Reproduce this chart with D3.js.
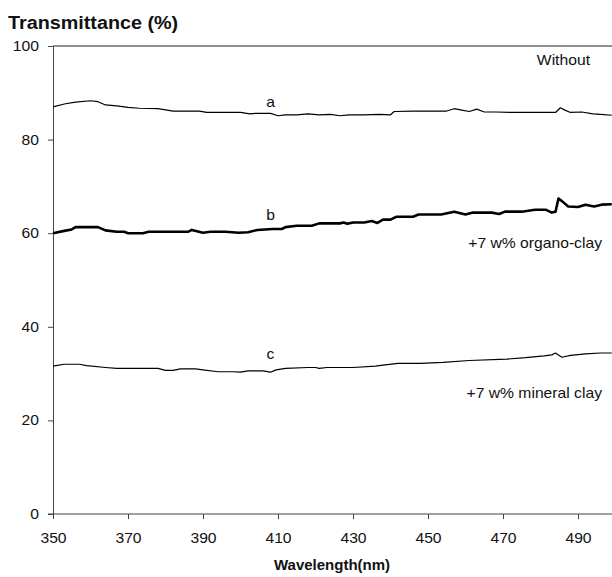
<!DOCTYPE html>
<html>
<head>
<meta charset="utf-8">
<script src="https://cdn.jsdelivr.net/npm/d3@7"></script>
<style>
  body { margin: 0; background: #fff; }
  svg { display: block; font-family: "Liberation Sans", Arial, sans-serif; }
  .axis path, .axis line { stroke: #444; }
  .axis text { font-size: 14px; fill: #111; }
</style>
</head>
<body>
<svg id="chart" width="612" height="577"></svg>
<script>
// spectra (wavelength nm, transmittance %)
const wlA = [350, 353, 356, 360, 362, 364, 367, 370, 373, 378, 382, 386, 389, 391, 395, 400, 402.5, 404, 408, 410, 412, 415, 418, 421, 424, 426.5, 429, 433, 437, 440, 441, 446, 450, 455, 457, 459, 461, 463, 465, 468, 472, 476, 480, 484, 485.3, 486.5, 488, 491, 494, 496, 499];
const tA = [87.0, 87.6, 88.0, 88.3, 88.1, 87.4, 87.2, 86.9, 86.7, 86.6, 86.1, 86.1, 86.1, 85.8, 85.8, 85.8, 85.5, 85.6, 85.6, 85.1, 85.3, 85.3, 85.5, 85.3, 85.4, 85.1, 85.3, 85.3, 85.4, 85.3, 86.0, 86.1, 86.1, 86.1, 86.6, 86.3, 86.0, 86.5, 85.9, 85.9, 85.8, 85.8, 85.8, 85.8, 86.8, 86.3, 85.8, 85.9, 85.5, 85.4, 85.2];

const wlB = [350, 353, 355, 356, 362, 364, 367, 369, 370, 374, 375.5, 380, 386, 387, 390, 392, 396, 399.5, 402, 404.5, 408.5, 411, 412, 415, 419, 421, 426.5, 427.5, 428.5, 430, 433, 435, 436.5, 438, 440, 441.5, 446, 447.5, 453.5, 457, 460, 462, 467, 469, 470.5, 475, 478.5, 481.5, 483, 484, 484.8, 485.8, 487.4, 490, 492, 494.3, 496.3, 499];
const tB = [60.0, 60.5, 60.8, 61.3, 61.3, 60.6, 60.3, 60.3, 60.0, 60.0, 60.3, 60.3, 60.3, 60.7, 60.1, 60.3, 60.3, 60.1, 60.2, 60.7, 60.9, 60.9, 61.3, 61.6, 61.6, 62.1, 62.1, 62.3, 62.0, 62.3, 62.3, 62.6, 62.2, 62.9, 62.9, 63.5, 63.5, 64.0, 64.0, 64.6, 64.0, 64.4, 64.4, 64.1, 64.6, 64.6, 65.0, 65.0, 64.4, 64.6, 67.4, 66.8, 65.7, 65.6, 66.1, 65.7, 66.1, 66.2];

const wlC = [350, 353, 357, 359, 364, 367, 378, 380, 382, 384, 388, 390, 394, 398, 400, 402, 406, 408, 409.5, 412, 418, 420, 421, 423, 430, 436, 438, 442, 448, 454, 461, 471, 476, 481, 483, 484, 485.7, 488, 492, 496, 499];
const tC = [31.6, 32.0, 32.0, 31.7, 31.3, 31.1, 31.1, 30.7, 30.7, 31.0, 31.0, 30.8, 30.4, 30.4, 30.3, 30.6, 30.6, 30.3, 30.8, 31.1, 31.3, 31.3, 31.1, 31.3, 31.3, 31.6, 31.8, 32.2, 32.2, 32.4, 32.8, 33.1, 33.4, 33.8, 34.0, 34.4, 33.5, 33.9, 34.2, 34.4, 34.4];

const xTicks = [350, 370, 390, 410, 430, 450, 470, 490];
const yTicks = [0, 20, 40, 60, 80, 100];

const svg = d3.select('#chart');
const plotLeft = 53, plotTop = 46, plotBottom = 514;
const stretch = 1.12; // the original lettering is a bit wide

const x = d3.scaleLinear().domain([350, 500]).range([plotLeft, plotLeft + 150 * 3.75]);
const y = d3.scaleLinear().domain([0, 100]).range([plotBottom, plotTop]);

// frame top line
svg.append('line')
  .attr('x1', x(350)).attr('x2', 612)
  .attr('y1', y(100)).attr('y2', y(100))
  .attr('stroke', '#222').attr('stroke-width', 1.2);

svg.append('g')
  .attr('class', 'axis')
  .attr('transform', `translate(0,${plotBottom})`)
  .call(d3.axisBottom(x).tickValues(xTicks).tickSize(5).tickSizeOuter(0).tickPadding(14))
  .call(g => g.select('.domain').attr('d', `M${plotLeft - 5},0H612`))
  .call(g => g.selectAll('text').attr('transform', `scale(${stretch},1)`));

svg.append('g')
  .attr('class', 'axis')
  .attr('transform', `translate(${plotLeft},0)`)
  .call(d3.axisLeft(y).tickValues(yTicks).tickSize(5).tickSizeOuter(0).tickPadding(9))
  .call(g => g.selectAll('text')
    .attr('x', -14 / stretch)
    .attr('transform', `scale(${stretch},1)`));

svg.selectAll('.axis text').attr('font-family', '"Liberation Sans", Arial, sans-serif');

let line = d3.line().x(d => x(d[0])).y(d => y(d[1]));

let series = [
  {wl: wlA, t: tA, w: 1.2},
  {wl: wlB, t: tB, w: 2.6},
  {wl: wlC, t: tC, w: 1.2}
];
series.forEach(s => {
  svg.append('path')
    .datum(s.wl.map((w, i) => [w, s.t[i]]))
    .attr('fill', 'none')
    .attr('stroke', '#000')
    .attr('stroke-width', s.w)
    .attr('stroke-linejoin', 'round')
    .attr('d', line);
});

// labels
function label(tx, ty, str, anchor, size, weight, sx) {
  svg.append('text')
    .attr('transform', `translate(${tx},${ty}) scale(${sx || stretch},1)`)
    .attr('text-anchor', anchor || 'start')
    .attr('font-size', size || 14)
    .attr('font-weight', weight || 'normal')
    .attr('fill', '#111')
    .text(str);
}
label(8, 29, 'Transmittance (%)', 'start', 17.5, 'bold', 1.13);
label(332, 570, 'Wavelength(nm)', 'middle', 15, 'bold', 1.0);
label(590, 65, 'Without', 'end');
label(x(408), 107, 'a', 'middle');
label(x(408), 220, 'b', 'middle');
label(x(408), 359, 'c', 'middle');
label(602, 248, '+7 w% organo-clay', 'end');
label(602, 398, '+7 w% mineral clay', 'end');
</script>
</body>
</html>
